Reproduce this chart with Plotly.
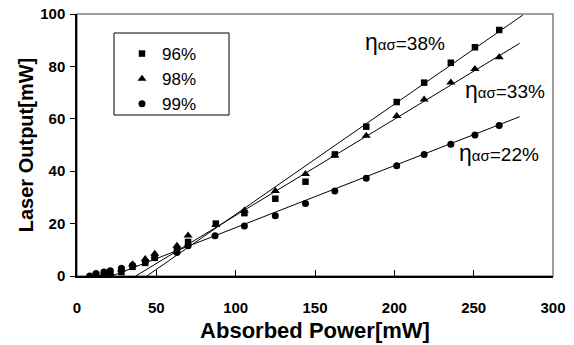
import plotly.graph_objects as go

# Data
x_96 = [12, 17, 21, 28, 35, 43, 49, 63, 70, 87.5, 105.5, 125, 144, 162.5, 182.3, 201.5, 218.8, 235.6, 250.8, 266.1]
y_96 = [0.3, 0.5, 0.5, 1.5, 3.5, 5, 7, 10, 13, 20, 24, 29.5, 36, 46.4, 57, 66.4, 73.8, 81.4, 87.3, 93.9]
x_98 = [12, 17, 21, 28, 35, 43, 49, 63, 70, 87.5, 105.5, 125, 144, 162.5, 182.3, 201.5, 218.8, 235.6, 250.8, 266.1]
y_98 = [0.5, 0.8, 1, 2.5, 4.5, 6.5, 8.5, 11.5, 15.5, 19.5, 25, 32.4, 38.9, 46, 53.5, 61.1, 67.4, 73.9, 79, 83.5]
x_99 = [8, 12, 17, 21, 28, 35, 43, 49, 63, 70, 87, 105.5, 125, 144, 162.5, 182.3, 201.5, 218.8, 235.6, 250.8, 266.1]
y_99 = [0, 1, 1.5, 2, 3, 4, 5.5, 7, 9, 11.5, 15.4, 19.1, 23, 27.7, 32.4, 37.3, 42.1, 46.4, 50.3, 53.8, 57.4]

# Fit lines (threshold -> end)
fit_x_96 = [44, 281]
fit_y_96 = [0, 99.6]
fit_x_98 = [37, 279]
fit_y_98 = [0, 88.8]
fit_x_99 = [22, 279]
fit_y_99 = [0, 60.8]

series_names = ["96%", "98%", "99%"]
eff_labels = ["38%", "33%", "22%"]
eff_pos = [(180, 89.4), (243, 71), (239.5, 46.9)]

x_ticks = [0, 50, 100, 150, 200, 250, 300]
y_ticks = [0, 20, 40, 60, 80, 100]

FONT = "Arial, Liberation Sans, sans-serif"

fig = go.Figure()

for fx, fy in [(fit_x_96, fit_y_96), (fit_x_98, fit_y_98), (fit_x_99, fit_y_99)]:
    fig.add_trace(go.Scatter(x=fx, y=fy, mode="lines", line=dict(color="black", width=1),
                             showlegend=False, hoverinfo="skip"))

fig.add_trace(go.Scatter(x=x_96, y=y_96, mode="markers", name=series_names[0],
                         marker=dict(symbol="square", size=6.5, color="black")))
fig.add_trace(go.Scatter(x=x_98, y=y_98, mode="markers", name=series_names[1],
                         marker=dict(symbol="triangle-up", size=8, color="black")))
fig.add_trace(go.Scatter(x=x_99, y=y_99, mode="markers", name=series_names[2],
                         marker=dict(symbol="circle", size=7, color="black")))

for lab, (ax, ay) in zip(eff_labels, eff_pos):
    fig.add_annotation(x=ax, y=ay, xref="x", yref="y", xanchor="left", yanchor="middle",
                       text="<span style='font-size:23px'>η</span><span style='font-size:15px'>ασ</span>=" + lab,
                       showarrow=False, font=dict(family=FONT, size=19, color="black"))

# plot-area frame (grey)
fig.add_shape(type="rect", xref="paper", yref="paper", x0=0, y0=0, x1=1, y1=1,
              line=dict(color="#808080", width=1.5), layer="below")
# legend box
fig.add_shape(type="rect", xref="paper", yref="paper",
              x0=(114 - 77) / 476, x1=(229 - 77) / 476,
              y0=(276 - 115) / 262, y1=(276 - 33) / 262,
              line=dict(color="black", width=1), fillcolor="white", layer="below")

fig.update_layout(
    width=574, height=345,
    margin=dict(l=77, r=21, t=14, b=69),
    paper_bgcolor="white", plot_bgcolor="white",
    font=dict(family=FONT, color="black"),
    showlegend=True,
    legend=dict(x=(122 - 77) / 476, y=(276 - 36) / 262, xanchor="left", yanchor="top",
                bgcolor="rgba(0,0,0,0)", borderwidth=0, font=dict(family=FONT, size=17),
                tracegroupgap=0, itemwidth=30),
    xaxis=dict(range=[0, 300], tickvals=x_ticks, showgrid=False, zeroline=False,
               automargin=False,
               showline=True, linecolor="black", linewidth=1.5,
               ticks="inside", ticklen=6, tickcolor="black", ticklabelstandoff=17,
               tickfont=dict(family=FONT, size=15, weight="bold"),
               title=dict(text="Absorbed Power[mW]", font=dict(family=FONT, size=22, weight="bold"),
                          standoff=8)),
    yaxis=dict(range=[0, 100], tickvals=y_ticks, showgrid=False, zeroline=False,
               automargin=False,
               showline=True, linecolor="black", linewidth=1.5,
               ticks="outside", ticklen=5, tickcolor="black", ticklabelstandoff=2,
               tickfont=dict(family=FONT, size=15, weight="bold"),
               title=dict(text="Laser Output[mW]", font=dict(family=FONT, size=20, weight="bold"),
                          standoff=1)),
)

fig.write_html("out.html", config={"displayModeBar": False},
               post_script="document.body.style.margin='0';")
